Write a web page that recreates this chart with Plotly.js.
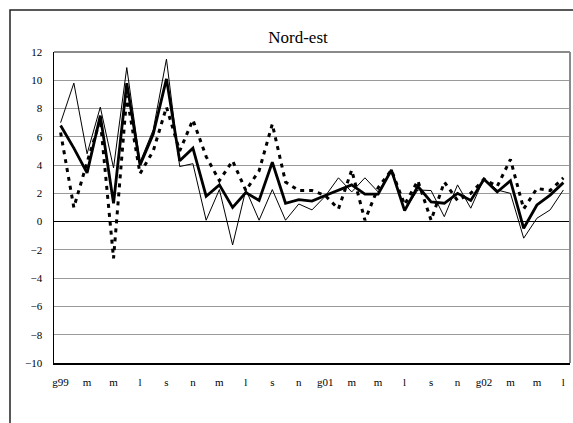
<!DOCTYPE html>
<html><head><meta charset="utf-8">
<script src="https://cdn.plot.ly/plotly-3.0.1.min.js"></script>
<style>html,body{margin:0;padding:0;overflow:hidden;background:#fff}#chart{width:573px;height:423px}</style>
</head><body><div id="chart"></div>
<script>
// monthly categories (Italian initials); only every second one is labelled
const months = ["g99","f","m","a","m","g","l","a","s","o","n","d",
  "m","g","l","a","s","o","n","d",
  "g01","f","m","a","m","g","l","a","s","o","n","d",
  "g02","f","m","a","m","g","l"];
const seriesThin = [7.0,9.8,4.8,8.1,3.8,10.9,4.2,6.5,11.5,3.9,4.1,0.1,
  2.27,-1.65,2.27,0.1,2.27,0.1,1.25,0.83,
  1.8,3.1,2.1,3.1,2.1,3.65,0.8,2.24,2.2,0.35,2.6,0.95,
  3.05,2.24,2.0,-1.17,0.24,0.83,2.24];
const seriesThick = [6.8,5.2,3.45,7.5,1.3,9.8,4.0,6.2,10.1,4.3,5.2,1.8,
  2.6,1.0,2.05,1.5,4.2,1.3,1.55,1.45,
  1.85,2.24,2.6,1.95,1.95,3.65,0.78,2.5,1.4,1.3,2.0,1.5,
  3.0,2.1,2.9,-0.47,1.18,1.88,2.76];
const seriesDotted = [6.3,1.0,4.2,7.2,-2.6,8.9,3.4,5.0,8.1,5.0,7.2,4.6,
  2.9,4.3,2.2,3.6,6.9,2.8,2.2,2.2,
  1.85,0.9,3.65,0.1,2.4,3.65,1.2,2.9,0.1,2.8,1.5,2.0,
  3.0,2.5,4.4,0.9,2.35,2.2,3.1];
const yTickVals = [-10,-8,-6,-4,-2,0,2,4,6,8,10,12];
const chartTitle = "Nord-est";

const xIdx = months.map((_, i) => i);
const tickIdx = xIdx.filter(i => i % 2 === 0);
const tickText = tickIdx.map(i => months[i]);

const W = 573, H = 423;
const mL = 54, mR = 3, mT = 52, mB = 60;
const pw = W - mL - mR, ph = H - mT - mB;
const px = p => (p - mL) / pw;          // pixel -> paper x
const py = p => (H - mB - p) / ph;      // pixel -> paper y
const serif = 'Liberation Serif, Times New Roman, serif';

const traces = [
  {x: xIdx, y: seriesThin, type: 'scatter', mode: 'lines', name: 'a',
   line: {color: '#000', width: 1}},
  {x: xIdx, y: seriesDotted, type: 'scatter', mode: 'lines', name: 'c',
   line: {color: '#000', width: 3, dash: '4px,5px'}},
  {x: xIdx, y: seriesThick, type: 'scatter', mode: 'lines', name: 'b',
   line: {color: '#000', width: 2.8}}
];

const layout = {
  width: W, height: H,
  margin: {l: mL, r: mR, t: mT, b: mB, pad: 0},
  paper_bgcolor: '#fff', plot_bgcolor: '#fff',
  showlegend: false,
  font: {family: serif, color: '#000', size: 11},
  title: {text: chartTitle, font: {size: 17, family: serif, color: '#000'},
          xref: 'paper', x: px(298), xanchor: 'center', yref: 'container', y: 1 - 37/H, yanchor: 'middle'},
  xaxis: {
    range: [-0.5, months.length - 0.5], tickmode: 'array', tickvals: tickIdx, ticktext: tickText,
    showgrid: false, zeroline: false, showline: true, linecolor: '#000', linewidth: 1.5,
    ticks: '', ticklabelstandoff: 8, tickfont: {size: 11, family: serif}, fixedrange: true
  },
  yaxis: {
    range: [-10, 12], tickmode: 'array', tickvals: yTickVals,
    showgrid: true, gridcolor: '#9a9a9a', gridwidth: 1,
    zeroline: true, zerolinecolor: '#000', zerolinewidth: 1.2,
    showline: true, linecolor: '#000', linewidth: 1.5,
    ticks: '', ticklabelstandoff: 8, tickfont: {size: 11, family: serif}, fixedrange: true
  },
  shapes: [
    {type: 'line', xref: 'paper', yref: 'paper', x0: 0, x1: 1, y0: 1, y1: 1, line: {color: '#8a8a8a', width: 2}},
    {type: 'line', xref: 'paper', yref: 'paper', x0: 1, x1: 1, y0: 0, y1: 1, line: {color: '#8a8a8a', width: 2}},
    {type: 'rect', xref: 'paper', yref: 'paper', x0: px(10), x1: px(700), y0: py(10), y1: py(600),
     line: {color: '#222', width: 1.5}, fillcolor: 'rgba(0,0,0,0)', layer: 'below'}
  ]
};

Plotly.newPlot('chart', traces, layout, {displayModeBar: false, staticPlot: true});
</script>
</body></html>
